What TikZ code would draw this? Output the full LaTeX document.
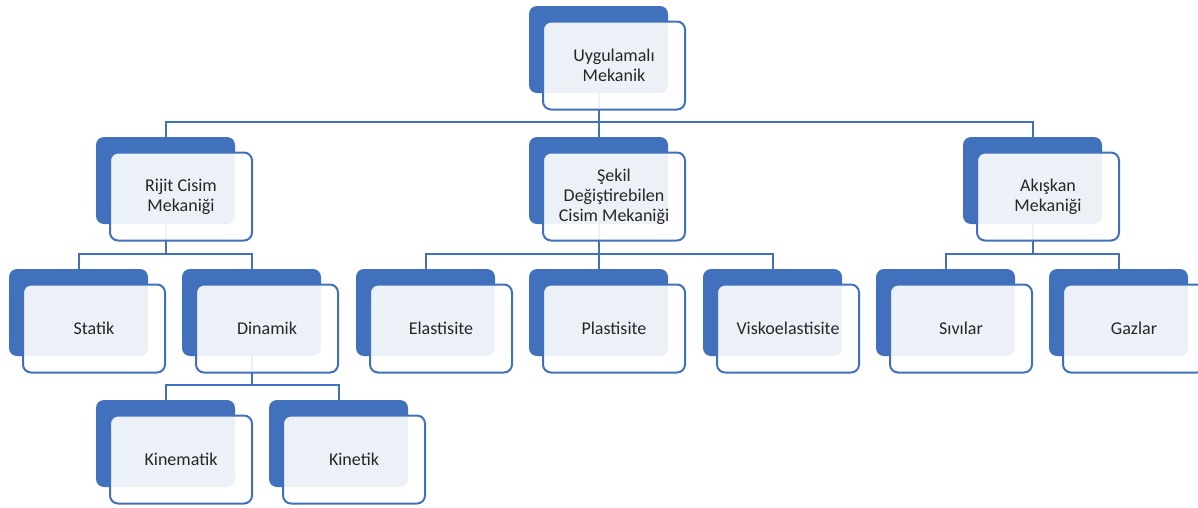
\documentclass[tikz,border=0pt]{standalone}
\usepackage{fontspec}
\setmainfont{Carlito}
\definecolor{ablue}{HTML}{4171BD}
\definecolor{txt}{HTML}{262626}
\begin{document}
\begin{tikzpicture}[x=1pt,y=-1pt,
 back/.style={rectangle,rounded corners=8pt,fill=ablue,minimum width=139pt,minimum height=87pt,inner sep=0pt,outer sep=0pt},
 front/.style={rectangle,rounded corners=8pt,draw=ablue,line width=2pt,fill=white,fill opacity=0.9,text opacity=1,text=txt,minimum width=142pt,minimum height=88pt,align=center,font=\fontsize{18}{20}\selectfont,inner sep=2pt},
 link/.style={draw=ablue,line width=2pt}]
\useasboundingbox (0,0) rectangle (1198,507);
% back boxes
\node[back] (bU) at (598.5,49.5) {};
\node[back] (bR) at (165.5,180.5) {};
\node[back] (bS) at (598.5,180.5) {};
\node[back] (bA) at (1032.5,180.5) {};
\node[back] (bSt) at (78.5,312.5) {};
\node[back] (bD) at (251.5,312.5) {};
\node[back] (bE) at (425.5,312.5) {};
\node[back] (bP) at (598.5,312.5) {};
\node[back] (bV) at (772.5,312.5) {};
\node[back] (bSi) at (945.5,312.5) {};
\node[back] (bG) at (1118.5,312.5) {};
\node[back] (bKm) at (165.5,443.5) {};
\node[back] (bKt) at (338.5,443.5) {};
% connectors
\foreach \p/\c in {bU/bR,bU/bS,bU/bA,bR/bSt,bR/bD,bS/bE,bS/bP,bS/bV,bA/bSi,bA/bG,bD/bKm,bD/bKt}
  \draw[link] (\p.south) |- ([yshift=15pt]\c.north) -- (\c.north);
% front boxes
\node[front] (fU) at ([xshift=15.5pt,yshift=-16pt]bU.center) {Uygulamalı\\Mekanik};
\node[front] (fR) at ([xshift=15.5pt,yshift=-16pt]bR.center) {Rijit Cisim\\Mekaniği};
\node[front] (fS) at ([xshift=15.5pt,yshift=-16pt]bS.center) {Şekil\\Değiştirebilen\\Cisim Mekaniği};
\node[front] (fA) at ([xshift=15.5pt,yshift=-16pt]bA.center) {Akışkan\\Mekaniği};
\node[front] (fSt) at ([xshift=15.5pt,yshift=-16pt]bSt.center) {Statik};
\node[front] (fD) at ([xshift=15.5pt,yshift=-16pt]bD.center) {Dinamik};
\node[front] (fE) at ([xshift=15.5pt,yshift=-16pt]bE.center) {Elastisite};
\node[front] (fP) at ([xshift=15.5pt,yshift=-16pt]bP.center) {Plastisite};
\node[front] (fV) at ([xshift=15.5pt,yshift=-16pt]bV.center) {Viskoelastisite};
\node[front] (fSi) at ([xshift=15.5pt,yshift=-16pt]bSi.center) {Sıvılar};
\node[front] (fG) at ([xshift=15.5pt,yshift=-16pt]bG.center) {Gazlar};
\node[front] (fKm) at ([xshift=15.5pt,yshift=-16pt]bKm.center) {Kinematik};
\node[front] (fKt) at ([xshift=15.5pt,yshift=-16pt]bKt.center) {Kinetik};
\end{tikzpicture}
\end{document}
